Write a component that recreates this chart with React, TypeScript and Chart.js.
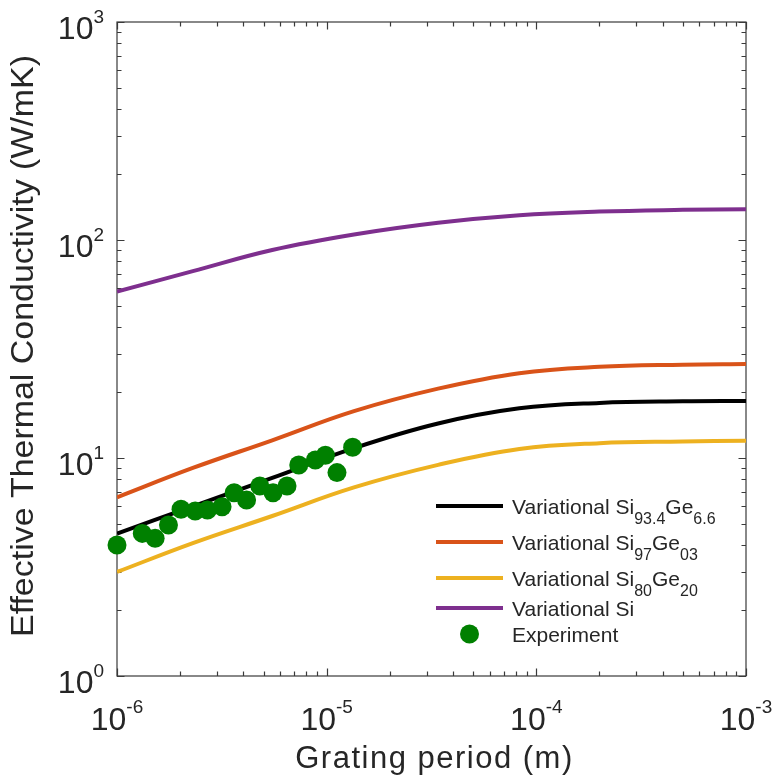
import React, { useEffect, useRef } from "react";
import { Chart, registerables } from "chart.js";

Chart.register(...registerables);

// ---- data ----
const periods = [1e-6, 2.3e-6, 5.5e-6, 1.35e-5, 3.4e-5, 8.3e-5, 2.0e-4, 5.0e-4, 1e-3];
const kSi934Ge66 = [4.5, 6.0, 8.1, 11.1, 14.4, 16.9, 17.9, 18.2, 18.25];
const kSi97Ge03 = [6.6, 9.0, 12.05, 16.4, 20.8, 24.5, 26.2, 26.8, 27.0];
const kSi80Ge20 = [3.0, 4.07, 5.42, 7.33, 9.3, 11.0, 11.7, 11.9, 12.0];
const kSi = [58, 72, 90, 106, 120, 130, 135, 137.5, 138.5];

const expPeriods = [
  1.0e-6, 1.32e-6, 1.52e-6, 1.76e-6, 2.02e-6, 2.36e-6, 2.7e-6, 3.17e-6, 3.62e-6,
  4.15e-6, 4.8e-6, 5.55e-6, 6.47e-6, 7.36e-6, 8.83e-6, 9.86e-6, 1.12e-5, 1.33e-5,
];
const expK = [
  3.99, 4.51, 4.28, 4.93, 5.82, 5.71, 5.77, 5.98, 6.93,
  6.42, 7.44, 6.93, 7.44, 9.29, 9.8, 10.3, 8.57, 11.2,
];

const xTickExponents = [-6, -5, -4, -3];
const yTickExponents = [0, 1, 2, 3];
const seriesLabels = [
  "Variational Si_{93.4}Ge_{6.6}",
  "Variational Si_{97}Ge_{03}",
  "Variational Si_{80}Ge_{20}",
  "Variational Si",
  "Experiment",
];
const seriesColors = ["#000000", "#D95319", "#EDB120", "#7E2F8E", "#008000"];
const xTitle = "Grating period (m)";
const yTitle = "Effective Thermal Conductivity (W/mK)";

const FONT = '"Liberation Sans", Arial, Helvetica, sans-serif';
const TEXT = "#262626";

function parseSub(label: string): { t: string; sub: boolean }[] {
  const out: { t: string; sub: boolean }[] = [];
  const re = /_\{([^}]*)\}/g;
  let last = 0;
  let m: RegExpExecArray | null;
  while ((m = re.exec(label))) {
    if (m.index > last) out.push({ t: label.slice(last, m.index), sub: false });
    out.push({ t: m[1], sub: true });
    last = m.index + m[0].length;
  }
  if (last < label.length) out.push({ t: label.slice(last), sub: false });
  return out;
}

const matlabAxes = {
  id: "matlabAxes",
  beforeDatasetsDraw(chart: any) {
    const { ctx, chartArea: a, scales } = chart;
    const xs = scales.x;
    const ys = scales.y;
    ctx.save();
    ctx.strokeStyle = "#3a3a3a";
    ctx.lineWidth = 1.2;
    ctx.strokeRect(a.left, a.top, a.right - a.left, a.bottom - a.top);
    ctx.beginPath();
    for (let e = -6; e <= -3; e++) {
      for (let m = 1; m <= 9; m++) {
        if (e === -3 && m > 1) break;
        const v = m * Math.pow(10, e);
        const px = Math.round(xs.getPixelForValue(v)) + 0.5;
        const len = m === 1 ? 7.5 : 4.5;
        ctx.moveTo(px, a.bottom);
        ctx.lineTo(px, a.bottom - len);
        ctx.moveTo(px, a.top);
        ctx.lineTo(px, a.top + len);
      }
    }
    for (let e = 0; e <= 3; e++) {
      for (let m = 1; m <= 9; m++) {
        if (e === 3 && m > 1) break;
        const v = m * Math.pow(10, e);
        const py = Math.round(ys.getPixelForValue(v)) + 0.5;
        const len = m === 1 ? 7.5 : 4.5;
        ctx.moveTo(a.left, py);
        ctx.lineTo(a.left + len, py);
        ctx.moveTo(a.right, py);
        ctx.lineTo(a.right - len, py);
      }
    }
    ctx.stroke();
    ctx.restore();
  },
  afterDraw(chart: any) {
    const { ctx, chartArea: a, scales } = chart;
    const xs = scales.x;
    const ys = scales.y;
    ctx.save();
    ctx.fillStyle = TEXT;
    ctx.textBaseline = "alphabetic";
    ctx.textAlign = "left";
    const bigFont = `32px ${FONT}`;
    const expFont = `19px ${FONT}`;

    for (const e of xTickExponents) {
      const px = xs.getPixelForValue(Math.pow(10, e));
      ctx.font = bigFont;
      const w10 = ctx.measureText("10").width;
      ctx.font = expFont;
      const es = String(e);
      const we = ctx.measureText(es).width;
      const start = px - (w10 + we) / 2;
      ctx.font = bigFont;
      ctx.fillText("10", start, 730);
      ctx.font = expFont;
      ctx.fillText(es, start + w10, 713);
    }
    for (const e of yTickExponents) {
      const py = ys.getPixelForValue(Math.pow(10, e));
      ctx.font = expFont;
      const es = String(e);
      const we = ctx.measureText(es).width;
      ctx.font = bigFont;
      const w10 = ctx.measureText("10").width;
      const right = 104;
      ctx.fillText("10", right - we - w10, py + 17);
      ctx.font = expFont;
      ctx.fillText(es, right - we, py + 1);
    }

    // x title
    ctx.font = `31px ${FONT}`;
    (ctx as any).letterSpacing = "1.5px";
    ctx.textAlign = "center";
    ctx.fillText(xTitle, (a.left + a.right) / 2 + 3, 768);
    (ctx as any).letterSpacing = "0px";

    // y title: fit to the reference's extent along the axis
    ctx.font = `31px ${FONT}`;
    const wy = ctx.measureText(yTitle).width;
    const targetLen = 582;
    ctx.save();
    ctx.translate(33, 346);
    ctx.rotate(-Math.PI / 2);
    ctx.scale(targetLen / wy, 1);
    ctx.fillText(yTitle, 0, 0);
    ctx.restore();

    // legend
    const rows = [506, 542, 578, 608, 634];
    const lineX0 = 436;
    const lineX1 = 503;
    const textX = 512;
    ctx.textAlign = "left";
    seriesLabels.forEach((label, i) => {
      const y = rows[i];
      if (i < 4) {
        ctx.strokeStyle = seriesColors[i];
        ctx.lineWidth = 4;
        ctx.beginPath();
        ctx.moveTo(lineX0, y);
        ctx.lineTo(lineX1, y);
        ctx.stroke();
      } else {
        ctx.fillStyle = seriesColors[i];
        ctx.beginPath();
        ctx.arc((lineX0 + lineX1) / 2, y, 9.5, 0, Math.PI * 2);
        ctx.fill();
      }
      ctx.fillStyle = TEXT;
      let x = textX;
      const base = y + 7.5;
      for (const seg of parseSub(label)) {
        ctx.font = seg.sub ? `16px ${FONT}` : `21px ${FONT}`;
        ctx.fillText(seg.t, x, seg.sub ? base + 10 : base);
        x += ctx.measureText(seg.t).width;
      }
    });
    ctx.restore();
  },
};

export default function App() {
  const ref = useRef<HTMLCanvasElement | null>(null);
  useEffect(() => {
    if (!ref.current) return;
    const lineSeries = [kSi934Ge66, kSi97Ge03, kSi80Ge20, kSi];
    const datasets: any[] = [
      {
        label: seriesLabels[4],
        data: expPeriods.map((p, i) => ({ x: p, y: expK[i] })),
        showLine: false,
        pointRadius: 9.5,
        pointBackgroundColor: seriesColors[4],
        pointBorderWidth: 0,
        backgroundColor: seriesColors[4],
        borderColor: seriesColors[4],
        clip: false,
        order: 0,
      },
      ...lineSeries.map((arr, i) => ({
        label: seriesLabels[i],
        data: periods.map((p, j) => ({ x: p, y: arr[j] })),
        borderColor: seriesColors[i],
        borderWidth: 4,
        pointRadius: 0,
        fill: false,
        tension: 0.4,
        clip: 0,
        order: 1,
      })),
    ];
    const chart = new Chart(ref.current, {
      type: "line",
      data: { datasets },
      options: {
        responsive: true,
        maintainAspectRatio: false,
        animation: false,
        events: [],
        layout: { padding: { left: 117, top: 22, right: 27, bottom: 104 } },
        scales: {
          x: { type: "logarithmic", min: 1e-6, max: 1e-3, display: false },
          y: { type: "logarithmic", min: 1, max: 1000, display: false },
        },
        plugins: { legend: { display: false }, tooltip: { enabled: false } },
      },
      plugins: [matlabAxes],
    } as any);
    return () => chart.destroy();
  }, []);
  return (
    <div style={{ position: "fixed", left: 0, top: 0, width: 773, height: 780, background: "#fff" }}>
      <canvas ref={ref} />
    </div>
  );
}
